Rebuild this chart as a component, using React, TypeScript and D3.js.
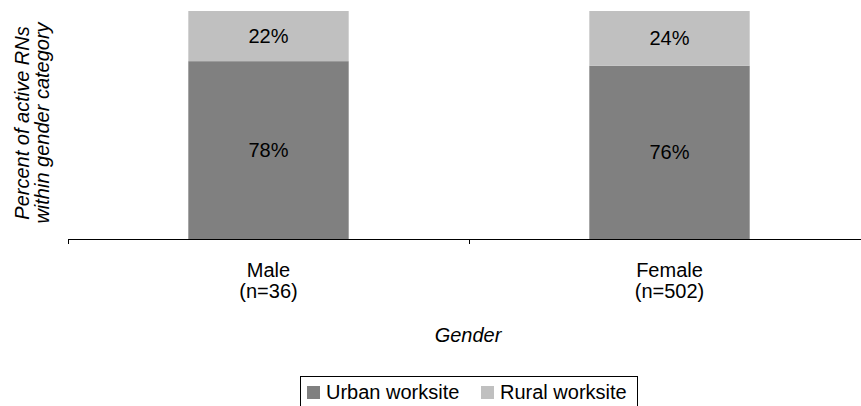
import React from "react"
import * as d3 from "d3"

const categories = ["Male", "Female"]
const sampleSizes = ["(n=36)", "(n=502)"]
const urban = [0.78, 0.76]
const rural = [0.22, 0.24]
const seriesNames = ["Urban worksite", "Rural worksite"]
const colors = ["#808080", "#c0c0c0"]

const W = 861
const H = 406
const font = "Arial, 'Liberation Sans', sans-serif"

const App: React.FC = () => {
	// plot area, the right band runs past the svg edge like in the original
	const left = 68
	const right = 870
	const top = 11
	const bottom = 239

	const x = d3
		.scaleBand<string>()
		.domain(categories)
		.range([left, right])
		.paddingInner(0.6)
		.paddingOuter(0.3)
	const y = d3.scaleLinear().domain([0, 1]).range([bottom, top])

	const stacked = categories.map((c, i) => {
		const segs: { y0: number; y1: number; v: number; color: string }[] = []
		let acc = 0
		;[urban[i], rural[i]].forEach((v, k) => {
			segs.push({ y0: acc, y1: acc + v, v, color: colors[k] })
			acc += v
		})
		return { c, segs }
	})

	const step = x.step()
	const boundaries = [left, left + step, left + 2 * step]

	const fmt = d3.format(".0%")

	// legend item positions
	const legendX = [307, 481]

	return (
		<svg
			width={W}
			height={H}
			style={{ position: "absolute", left: 0, top: 0, background: "#fff" }}
			fontFamily={font}>
			{stacked.map((d) =>
				d.segs.map((s, k) => (
					<g key={d.c + k}>
						<rect
							x={x(d.c)}
							y={y(s.y1)}
							width={x.bandwidth()}
							height={y(s.y0) - y(s.y1)}
							fill={s.color}
						/>
						<text
							x={(x(d.c) as number) + x.bandwidth() / 2}
							y={(y(s.y0) + y(s.y1)) / 2}
							dy="0.35em"
							textAnchor="middle"
							fontSize={20}
							fill="#000">
							{fmt(s.v)}
						</text>
					</g>
				))
			)}

			{/* x axis */}
			<line x1={left} x2={right} y1={bottom + 0.5} y2={bottom + 0.5} stroke="#000" strokeWidth={1} />
			{boundaries.map((b, i) => (
				<line key={i} x1={b + 0.5} x2={b + 0.5} y1={bottom} y2={bottom + 5} stroke="#000" />
			))}
			{categories.map((c, i) => (
				<text
					key={c}
					x={(x(c) as number) + x.bandwidth() / 2}
					y={277}
					textAnchor="middle"
					fontSize={20}
					fill="#000">
					<tspan x={(x(c) as number) + x.bandwidth() / 2}>{c}</tspan>
					<tspan x={(x(c) as number) + x.bandwidth() / 2} dy={21}>
						{sampleSizes[i]}
					</tspan>
				</text>
			))}
			<text x={468} y={342} textAnchor="middle" fontSize={20} fontStyle="italic" fill="#000">
				Gender
			</text>

			{/* y title */}
			<text transform="translate(29,123) rotate(-90)" textAnchor="middle" fontSize={20} fontStyle="italic" fill="#000">
				<tspan x={0} y={0}>Percent of active RNs</tspan>
				<tspan x={0} dy={20}>within gender category</tspan>
			</text>

			{/* legend */}
			<rect x={300.5} y={376.5} width={337} height={40} fill="#fff" stroke="#000" />
			{seriesNames.map((s, i) => (
				<g key={s}>
					<rect x={legendX[i]} y={386} width={13} height={13} fill={colors[i]} />
					<text x={legendX[i] + 19} y={399} fontSize={20} fill="#000">
						{s}
					</text>
				</g>
			))}
		</svg>
	)
}

export default App
